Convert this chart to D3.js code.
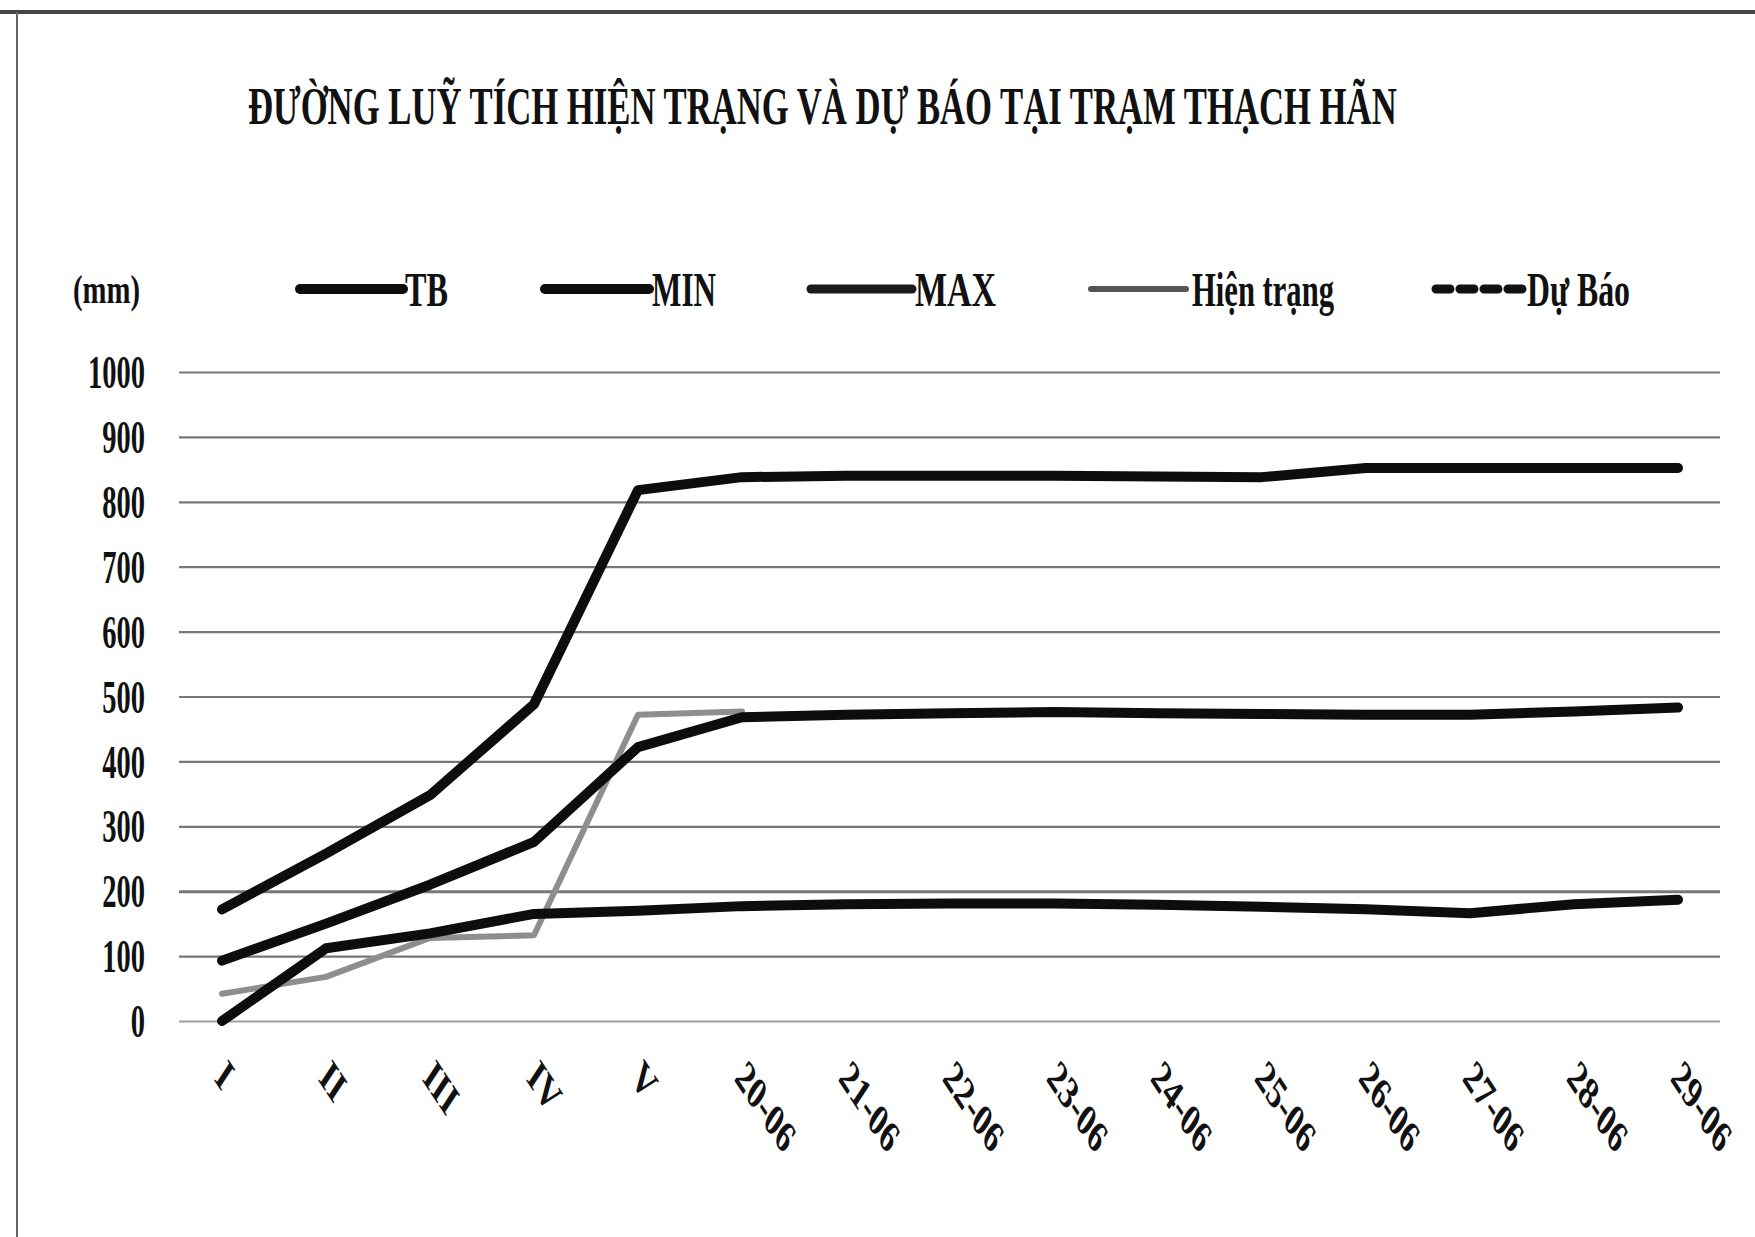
<!DOCTYPE html>
<html>
<head>
<meta charset="utf-8">
<script src="https://cdn.jsdelivr.net/npm/d3@7"></script>
<style>
  body { margin: 0; background: #fff; }
  text { font-family: "Liberation Serif", "Times New Roman", serif; font-weight: bold; fill: #111; }
</style>
</head>
<body>
<div id="chart"></div>
<script>
// Categories: months I..V then days of June
const categories = ['I', 'II', 'III', 'IV', 'V', '20-06', '21-06', '22-06', '23-06', '24-06', '25-06', '26-06', '27-06', '28-06', '29-06'];

// Cumulative rainfall (mm)
const tbValues   = [93, 150, 210, 276, 422, 468, 472, 474, 476, 474, 473, 472, 472, 477, 483];
const minValues  = [0, 112, 135, 165, 170, 177, 180, 181, 181, 179, 176, 172, 166, 180, 187];
const maxValues  = [172, 258, 348, 488, 818, 838, 840, 840, 840, 839, 838, 852, 852, 852, 852];
const hienTrang  = [42, 68, 128, 132, 472, 477, null, null, null, null, null, null, null, null, null];
const duBao      = [null, null, null, null, null, 468, 471, 474, 475, 474, 472, 471, 471, 476, 482];

const yTicks = [0, 100, 200, 300, 400, 500, 600, 700, 800, 900, 1000];

const title = 'ĐƯỜNG LUỸ TÍCH HIỆN TRẠNG VÀ DỰ BÁO TẠI TRẠM THẠCH HÃN';

const width = 1755;
const height = 1237;
const plot = { left: 179, right: 1720 };

const svg = d3.select('#chart')
  .append('svg')
  .attr('width', width)
  .attr('height', height);

svg.append('rect').attr('width', width).attr('height', height).attr('fill', '#fff');

// scanned page frame
svg.append('line').attr('x1', 0).attr('x2', width).attr('y1', 12).attr('y2', 12)
  .attr('stroke', '#444').attr('stroke-width', 4);
svg.append('line').attr('x1', 17).attr('x2', 17).attr('y1', 12).attr('y2', height)
  .attr('stroke', '#666').attr('stroke-width', 2);

const x = d3.scalePoint().domain(categories).range([222, 1678]);
const y = d3.scaleLinear().domain([0, 1000]).range([1021, 372]);

// squeeze a text horizontally so it spans the given width
function fitWidth(sel, left, base, w) {
  sel.each(function () {
    const natural = this.getComputedTextLength();
    d3.select(this).attr('transform', `translate(${left},${base}) scale(${w / natural},1)`);
  });
}

// Title
svg.append('text')
  .attr('font-size', 52)
  .text(title)
  .call(fitWidth, 248, 124, 1149);

// Gridlines
const grid = svg.append('g')
  .attr('transform', `translate(${plot.left},0)`)
  .call(d3.axisLeft(y).tickValues(yTicks).tickFormat('').tickSize(-(plot.right - plot.left)));
grid.select('.domain').remove();
grid.selectAll('.tick line')
  .attr('stroke', d => d === 0 ? '#a0a0a0' : '#777')
  .attr('stroke-width', d => d === 200 ? 3 : 2.2);

// Y labels (condensed bold)
svg.append('g').selectAll('text')
  .data(yTicks)
  .join('text')
  .attr('transform', d => `translate(145,${y(d)}) scale(0.62,1)`)
  .attr('text-anchor', 'end')
  .attr('dy', '0.35em')
  .attr('font-size', 46)
  .text(d => d);

// X labels rotated
svg.append('g').selectAll('text')
  .data(categories)
  .join('text')
  .attr('transform', d => `translate(${x(d) - 1},1068) scale(0.66,1) rotate(45)`)
  .attr('dy', '0.35em')
  .attr('font-size', 46)
  .text(d => d);

// Series
const series = [
  { name: 'Dự Báo', values: duBao, color: '#111', width: 7, dash: '14 9' },
  { name: 'Hiện trạng', values: hienTrang, color: '#8e8e8e', width: 6 },
  { name: 'MIN', values: minValues, color: '#0d0d0d', width: 10 },
  { name: 'TB', values: tbValues, color: '#0d0d0d', width: 10 },
  { name: 'MAX', values: maxValues, color: '#0d0d0d', width: 10 }
];

const line = d3.line()
  .defined(d => d[1] != null)
  .x(d => x(d[0]))
  .y(d => y(d[1]));

svg.append('g').selectAll('path')
  .data(series)
  .join('path')
  .attr('d', s => line(categories.map((c, i) => [c, s.values[i]])))
  .attr('fill', 'none')
  .attr('stroke', s => s.color)
  .attr('stroke-width', s => s.width)
  .attr('stroke-dasharray', s => s.dash || null)
  .attr('stroke-linejoin', 'round')
  .attr('stroke-linecap', 'round');

// Legend
const legendY = 289;
svg.append('text')
  .attr('font-size', 40)
  .text('(mm)')
  .call(fitWidth, 73, legendY + 14, 67);

const legendItems = [
  { name: 'TB', x1: 300, x2: 403, tx: 405, tw: 43, color: '#0d0d0d', width: 10 },
  { name: 'MIN', x1: 545, x2: 649, tx: 652, tw: 64, color: '#0d0d0d', width: 10 },
  { name: 'MAX', x1: 811, x2: 912, tx: 915, tw: 81, color: '#1a1a1a', width: 9 },
  { name: 'Hiện trạng', x1: 1091, x2: 1186, tx: 1192, tw: 142, color: '#555', width: 6 },
  { name: 'Dự Báo', x1: 1436, x2: 1522, tx: 1527, tw: 103, color: '#111', width: 9, dash: '14 10' }
];

const lg = svg.append('g').selectAll('g').data(legendItems).join('g');
lg.append('line')
  .attr('x1', d => d.x1).attr('x2', d => d.x2)
  .attr('y1', legendY).attr('y2', legendY)
  .attr('stroke', d => d.color)
  .attr('stroke-width', d => d.width)
  .attr('stroke-dasharray', d => d.dash || null)
  .attr('stroke-linecap', 'round');
lg.append('text')
  .attr('font-size', 48)
  .text(d => d.name)
  .each(function (d) { d3.select(this).call(fitWidth, d.tx, legendY + 17, d.tw); });
</script>
</body>
</html>
